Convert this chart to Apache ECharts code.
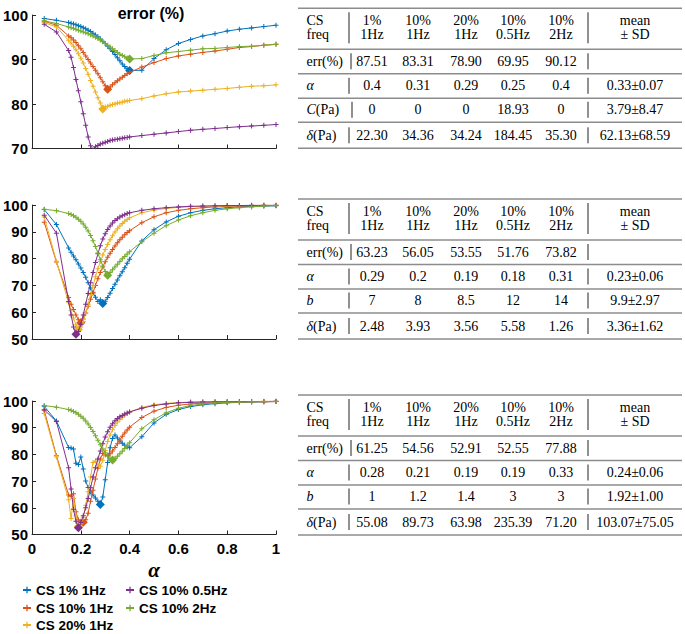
<!DOCTYPE html>
<html><head><meta charset="utf-8">
<script src="https://cdn.jsdelivr.net/npm/echarts@6/dist/echarts.min.js"></script>
<style>html,body{margin:0;padding:0;background:#fff}#c{width:685px;height:634px}</style>
</head><body><div id="c"></div>
<script>
// ---------- data ----------
const alpha = [0.05,0.10,0.15,0.16,0.17,0.18,0.19,0.20,0.21,0.22,0.23,0.24,0.25,0.26,0.27,0.28,0.29,0.30,0.31,0.32,0.33,0.34,0.35,0.36,0.37,0.38,0.39,0.40,0.45,0.50,0.55,0.60,0.65,0.70,0.75,0.80,0.85,0.90,0.95,1.00];
const seriesNames = ['CS 1% 1Hz','CS 10% 1Hz','CS 20% 1Hz','CS 10% 0.5Hz','CS 10% 2Hz'];
const xTicks = [0,0.2,0.4,0.6,0.8,1];

// panel 1 (top)
const p1Blue   = [99.2,98.8,98.3,98.15,98.0,97.8,97.6,97.4,97.15,96.9,96.6,96.3,95.9,95.5,95.1,94.6,94.1,93.6,93.0,92.4,91.8,91.1,90.4,89.7,89.0,88.4,87.9,87.51,87.6,90.2,92.2,93.6,94.5,95.3,95.8,96.4,96.8,97.1,97.4,97.7];
const p1Red    = [98.6,97.7,95.3,94.9,94.4,93.8,93.1,92.4,91.6,90.8,90.0,89.2,88.4,87.6,86.8,85.9,85.0,84.1,83.31,83.8,84.3,84.8,85.2,85.6,86.0,86.4,86.8,87.1,88.3,89.3,90.2,90.8,91.2,91.6,91.9,92.3,92.7,92.9,93.2,93.4];
const p1Yellow = [98.3,97.3,94.3,93.7,93.0,92.2,91.3,90.3,89.2,88.0,86.7,85.3,84.0,82.7,81.4,80.2,78.90,79.3,79.5,79.7,79.9,80.0,80.2,80.3,80.4,80.6,80.7,80.8,81.2,81.8,82.3,82.7,82.9,83.1,83.3,83.5,83.75,84.0,84.1,84.3];
const p1Purple = [97.9,96.2,92.0,90.5,88.2,85.5,83.0,80.5,77.8,75.2,72.6,70.6,69.95,70.4,70.7,71.0,71.2,71.4,71.6,71.8,71.9,72.0,72.1,72.2,72.3,72.4,72.5,72.6,72.9,73.2,73.5,73.8,74.1,74.3,74.5,74.7,74.9,75.05,75.2,75.4];
const p1Green  = [98.7,98.1,97.3,97.15,97.0,96.8,96.6,96.4,96.2,96.0,95.8,95.55,95.3,95.0,94.7,94.4,94.0,93.6,93.2,92.8,92.4,92.0,91.6,91.2,90.9,90.6,90.35,90.12,90.2,90.9,91.5,91.8,92.1,92.4,92.5,92.7,92.9,93.0,93.2,93.4];

// panel 2 (middle)
const p2Blue   = [98.3,92.7,84.0,82.4,81.0,79.6,78.0,76.5,74.8,73.0,71.0,69.0,67.2,65.6,64.0,64.6,63.23,64.1,65.5,67.1,68.8,70.4,72.0,73.6,75.1,76.6,78.3,79.8,86.6,90.8,93.7,95.8,97.1,98.0,98.6,99.0,99.3,99.5,99.6,99.7];
const p2Red    = [93.6,78.7,65.5,63.0,61.0,59.0,57.2,56.05,57.5,59.7,62.2,64.8,67.4,70.0,72.5,74.8,76.9,78.8,80.5,82.0,83.4,84.7,85.9,87.0,88.0,88.9,89.7,90.4,93.4,95.6,97.1,98.0,98.6,99.0,99.3,99.5,99.6,99.7,99.8,99.8];
const p2Yellow = [95.5,79.0,63.5,60.5,57.8,55.3,53.55,54.5,56.5,59.5,63.0,66.6,70.0,73.2,76.2,78.9,81.3,83.4,85.3,87.0,88.5,89.9,91.1,92.2,93.1,93.9,94.6,95.2,97.1,98.1,98.7,99.1,99.4,99.5,99.6,99.7,99.8,99.8,99.9,99.9];
const p2Purple = [96.2,89.5,64.0,59.0,54.5,51.76,52.8,55.5,59.0,63.0,67.0,71.0,74.8,78.5,81.8,84.8,87.3,89.3,90.9,92.2,93.3,94.2,94.9,95.5,96.0,96.4,96.8,97.1,98.0,98.6,99.0,99.3,99.5,99.6,99.7,99.8,99.8,99.9,99.9,99.9];
const p2Green  = [98.4,97.9,96.8,96.5,96.0,95.4,94.7,93.9,92.9,91.7,90.3,88.6,86.7,84.5,82.1,79.6,77.2,75.2,73.82,74.8,75.8,76.9,77.9,78.9,79.9,80.8,81.7,82.6,86.3,89.5,92.3,94.4,96.0,97.1,98.0,98.6,99.0,99.3,99.6,99.8];

// panel 3 (bottom)
const p3Blue   = [98.0,92.5,82.6,82.4,82.0,76.7,76.2,79.0,74.5,70.0,67.6,66.0,64.8,63.7,62.5,61.25,64.0,70.5,77.0,82.5,86.0,87.3,86.1,85.0,84.2,83.4,82.8,82.5,86.6,91.8,95.0,96.8,97.9,98.6,99.0,99.3,99.5,99.6,99.7,99.8];
const p3Red    = [96.5,79.5,64.8,64.3,65.3,58.5,55.5,55.0,54.56,55.5,58.0,62.5,66.6,70.8,74.8,78.3,80.3,79.8,79.6,80.2,81.3,82.6,84.0,85.4,86.8,88.0,89.1,90.2,93.8,96.2,97.6,98.4,98.9,99.2,99.4,99.5,99.6,99.7,99.7,99.8];
const p3Yellow = [95.3,79.0,63.0,56.0,63.5,57.0,52.91,54.0,56.5,61.0,66.0,71.5,77.0,77.5,76.0,75.6,77.8,81.5,84.8,87.3,89.2,90.8,92.1,93.1,93.9,94.7,95.3,95.9,97.6,98.6,99.1,99.4,99.6,99.7,99.7,99.8,99.8,99.8,99.9,99.9];
const p3Purple = [96.7,92.3,75.0,67.0,59.5,55.0,52.55,54.5,57.0,60.0,63.5,67.5,71.5,75.0,78.3,81.3,84.0,86.5,88.5,90.2,91.5,92.6,93.4,94.1,94.6,95.1,95.5,95.9,97.3,98.3,98.9,99.3,99.5,99.6,99.7,99.7,99.8,99.8,99.8,99.9];
const p3Green  = [98.3,97.7,96.8,96.5,96.1,95.6,95.0,94.3,93.5,92.5,91.4,90.1,88.6,87.0,85.3,83.6,82.0,80.6,79.3,78.4,77.88,78.5,79.3,80.2,81.2,82.2,83.3,84.4,89.6,93.0,95.6,97.3,98.3,98.9,99.3,99.5,99.6,99.7,99.8,99.8];

// tables
const tblHead1 = ['CS','1%','10%','20%','10%','10%','mean'];
const tblHead2 = ['freq','1Hz','1Hz','1Hz','0.5Hz','2Hz','± SD'];
const t1Labels = ['err(%)','{i|α}','{i|C}(Pa)','{i|δ}(Pa)'];
const t1Err   = ['87.51','83.31','78.90','69.95','90.12',''];
const t1Alpha = ['0.4','0.31','0.29','0.25','0.4','0.33±0.07'];
const t1C     = ['0','0','0','18.93','0','3.79±8.47'];
const t1Delta = ['22.30','34.36','34.24','184.45','35.30','62.13±68.59'];
const t2Labels = ['err(%)','{i|α}','{i|b}','{i|δ}(Pa)'];
const t2Err   = ['63.23','56.05','53.55','51.76','73.82',''];
const t2Alpha = ['0.29','0.2','0.19','0.18','0.31','0.23±0.06'];
const t2B     = ['7','8','8.5','12','14','9.9±2.97'];
const t2Delta = ['2.48','3.93','3.56','5.58','1.26','3.36±1.62'];
const t3Labels = ['err(%)','{i|α}','{i|b}','{i|δ}(Pa)'];
const t3Err   = ['61.25','54.56','52.91','52.55','77.88',''];
const t3Alpha = ['0.28','0.21','0.19','0.19','0.33','0.24±0.06'];
const t3B     = ['1','1.2','1.4','3','3','1.92±1.00'];
const t3Delta = ['55.08','89.73','63.98','235.39','71.20','103.07±75.05'];

// ---------- styles / layout ----------
const colors = ['#0072BD','#D95319','#EDB120','#7E2F8E','#77AC30'];
const plus = 'path://M2,0H3V2H5V3H3V5H2V3H0V2H2Z';
const panels = [
  {vals:[p1Blue,p1Red,p1Yellow,p1Purple,p1Green], ymin:70, top:15, h:133.5},
  {vals:[p2Blue,p2Red,p2Yellow,p2Purple,p2Green], ymin:50, top:205, h:134},
  {vals:[p3Blue,p3Red,p3Yellow,p3Purple,p3Green], ymin:50, top:401, h:133.5}
];
const axisCol = '#262626';
const grids = [], xAxes = [], yAxes = [], series = [];
panels.forEach((p, g) => {
  grids.push({left:29, top:p.top, width:247, height:p.h});
  xAxes.push({
    gridIndex:g, type:'value', min:xTicks[0], max:xTicks[xTicks.length-1], interval:0.2,
    axisLine:{lineStyle:{color:axisCol,width:1}},
    axisTick:{inside:true,length:4,lineStyle:{color:axisCol}},
    axisLabel:{show:g===2, fontSize:15, fontWeight:'bold', color:'#000', fontFamily:'Liberation Sans', margin:6,
      formatter:v=>String(+(+v).toFixed(1))},
    splitLine:{show:false},
    name: g===2 ? 'α' : '', nameLocation:'middle', nameGap:25,
    nameTextStyle:{fontFamily:'Liberation Serif', fontStyle:'italic', fontWeight:'bold', fontSize:21, color:'#000'}
  });
  yAxes.push({
    gridIndex:g, type:'value', min:p.ymin, max:100, interval:10,
    axisLine:{show:true,lineStyle:{color:axisCol,width:1}},
    axisTick:{show:true,inside:true,length:4,lineStyle:{color:axisCol}},
    axisLabel:{fontSize:15, fontWeight:'bold', color:'#000', fontFamily:'Liberation Sans', margin:4},
    splitLine:{show:false}
  });
  p.vals.forEach((ys, k) => {
    const minI = ys.indexOf(Math.min(...ys));
    series.push({
      type:'line', name:seriesNames[k], xAxisIndex:g, yAxisIndex:g,
      data: alpha.map((a,i)=> i===minI ? {value:[a,ys[i]], symbol:'diamond', symbolSize:9} : [a,ys[i]]),
      symbol:plus, symbolSize:5, showSymbol:true, showAllSymbol:true,
      lineStyle:{width:1,color:colors[k]}, itemStyle:{color:colors[k]},
      z:2+k, animation:false, emphasis:{disabled:true}
    });
  });
});

// ---------- tables ----------
const serif = '"Liberation Serif", "Times New Roman", serif';
const colX = [372, 418, 466, 513, 561, 635];
const graphics = [];
function txt(x, y, s, align) {
  graphics.push({type:'text', x:x, y:y, silent:true, style:{
    text:s, fill:'#000', fontSize:14, fontFamily:serif,
    align:align, verticalAlign:'middle', textAlign:align, textVerticalAlign:'middle',
    rich:{i:{fontStyle:'italic', fontSize:14, fontFamily:serif, fill:'#000'}}
  }});
}
function hline(y) {
  graphics.push({type:'line', silent:true, shape:{x1:298,y1:y,x2:682,y2:y}, style:{stroke:'#8c8c8c', lineWidth:1.6}});
}
function vbar(x, y1, y2) {
  graphics.push({type:'line', silent:true, shape:{x1:x,y1:y1,x2:x,y2:y2}, style:{stroke:'#222', lineWidth:1}});
}
function table(T, labels, rows, barX) {
  [0, 41, 65.5, 90, 114, 140].forEach(d => hline(T + d));
  txt(306.5, T+12, tblHead1[0], 'left');
  txt(306.5, T+26, tblHead2[0], 'left');
  for (let c = 1; c < 7; c++) { txt(colX[c-1], T+12, tblHead1[c], 'center'); txt(colX[c-1], T+26, tblHead2[c], 'center'); }
  vbar(349, T+4, T+35); vbar(588, T+4, T+35);
  const rowY = [53, 77.5, 101.5, 127];
  rows.forEach((r, ri) => {
    const y = T + rowY[ri];
    txt(306.5, y, labels[ri], 'left');
    r.forEach((v, c) => { if (v) txt(colX[c], y, v, 'center'); });
    vbar(barX[ri], y-8, y+8); vbar(588, y-8, y+8);
  });
}
table(8.3, t1Labels, [t1Err, t1Alpha, t1C, t1Delta], [351, 349, 352, 349]);
table(199, t2Labels, [t2Err, t2Alpha, t2B, t2Delta], [351, 349, 349, 349]);
table(395, t3Labels, [t3Err, t3Alpha, t3B, t3Delta], [351, 349, 349, 349]);

// legend: one component per entry, laid out in two columns like the reference
const legendText = {fontSize:13.5, fontWeight:'bold', fontFamily:'Liberation Sans', color:'#000'};
const legendPos = [[22,583],[22,601],[22,618],[125,583],[125,601]];
const legends = seriesNames.map((n, i) => ({
  data:[n], left:legendPos[i][0], top:legendPos[i][1], itemWidth:8, itemHeight:8,
  padding:0, textStyle:legendText, selectedMode:false
}));

const chart = echarts.init(document.getElementById('c'), null, {renderer:'svg'});
chart.setOption({
  backgroundColor:'#fff',
  animation:false,
  title:{text:'error (%)', left:146, top:0, textAlign:'center',
    textStyle:{fontSize:16, fontWeight:'bold', fontFamily:'Liberation Sans', color:'#000'}},
  legend:legends,
  grid:grids, xAxis:xAxes, yAxis:yAxes, series:series,
  graphic:graphics
});
</script></body></html>
